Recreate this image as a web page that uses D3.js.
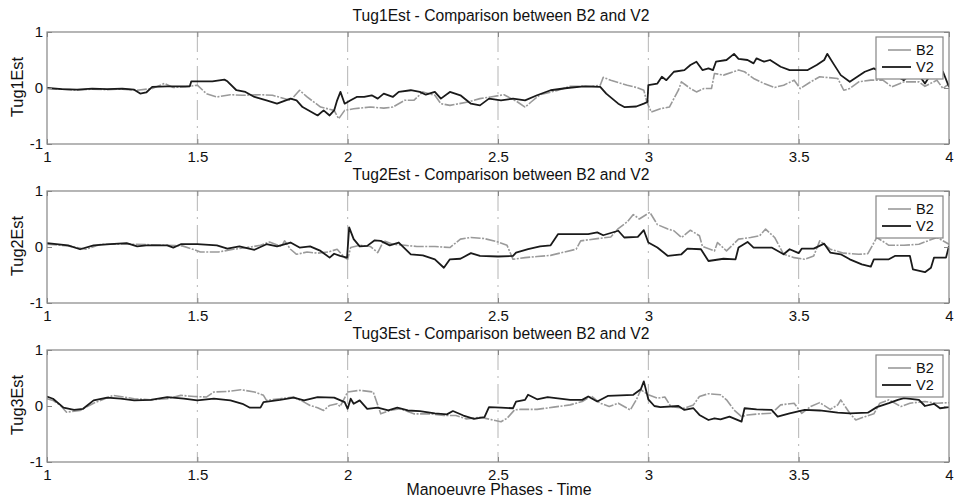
<!DOCTYPE html>
<html><head><meta charset="utf-8">
<script src="https://cdn.jsdelivr.net/npm/d3@7"></script>
<style>
html,body{margin:0;padding:0;background:#fff;}
svg{display:block;font-family:"Liberation Sans",Arial,sans-serif;}
</style></head>
<body>
<svg id="chart" width="956" height="499"></svg>
<script>
const xTicks = [1, 1.5, 2, 2.5, 3, 3.5, 4];
const yTicks = [-1, 0, 1];
const yTickLabels = ["-1", "0", "1"];
const panelTitles = ["Tug1Est - Comparison between B2 and V2", "Tug2Est - Comparison between B2 and V2", "Tug3Est - Comparison between B2 and V2"];
const yLabels = ["Tug1Est", "Tug2Est", "Tug3Est"];
const seriesNames = ["B2", "V2"];
const xLabel = "Manoeuvre Phases - Time";

const tug1B2 = [[1.0,-0.01],[1.05,-0.02],[1.10,-0.04],[1.15,-0.02],[1.20,-0.03],[1.25,-0.02],[1.30,-0.04],[1.35,-0.01],[1.39,0.08],[1.42,0.01],[1.46,0.02],[1.50,0.05],[1.53,-0.10],[1.565,-0.16],[1.61,-0.12],[1.65,-0.13],[1.71,-0.12],[1.75,-0.13],[1.81,-0.22],[1.84,-0.04],[1.865,-0.16],[1.91,-0.34],[1.955,-0.40],[1.97,-0.55],[1.99,-0.40],[2.02,-0.37],[2.075,-0.34],[2.12,-0.36],[2.15,-0.34],[2.19,-0.22],[2.22,-0.22],[2.25,-0.07],[2.29,-0.13],[2.31,-0.28],[2.34,-0.31],[2.40,-0.25],[2.44,-0.19],[2.475,-0.16],[2.52,-0.12],[2.565,-0.25],[2.59,-0.34],[2.61,-0.25],[2.64,-0.12],[2.70,-0.04],[2.74,0.03],[2.81,0.03],[2.84,0.05],[2.85,0.19],[2.875,0.14],[2.91,0.08],[2.93,0.05],[2.96,0.01],[2.985,-0.04],[2.995,-0.25],[3.01,-0.43],[3.04,-0.37],[3.07,-0.34],[3.10,-0.04],[3.11,0.11],[3.14,-0.01],[3.16,-0.07],[3.185,-0.01],[3.21,-0.01],[3.22,0.26],[3.25,0.23],[3.30,0.32],[3.32,0.29],[3.35,0.17],[3.385,0.08],[3.42,0.01],[3.45,0.05],[3.485,0.14],[3.505,-0.01],[3.54,0.11],[3.57,0.20],[3.63,0.17],[3.65,-0.04],[3.67,-0.01],[3.70,0.11],[3.74,0.14],[3.78,0.14],[3.81,0.02],[3.85,0.11],[3.90,0.11],[3.92,0.03],[3.96,0.14],[3.98,-0.01],[4.0,0.08]];
const tug1V2 = [[1.0,0],[1.05,-0.02],[1.10,-0.03],[1.15,-0.01],[1.20,-0.02],[1.25,-0.01],[1.29,-0.03],[1.31,-0.10],[1.33,-0.08],[1.35,0.02],[1.40,0.03],[1.45,0.03],[1.475,0.03],[1.48,0.12],[1.55,0.12],[1.59,0.15],[1.60,0.12],[1.63,-0.04],[1.66,-0.07],[1.69,-0.16],[1.73,-0.22],[1.765,-0.28],[1.81,-0.19],[1.83,-0.22],[1.85,-0.34],[1.90,-0.49],[1.92,-0.40],[1.94,-0.49],[1.955,-0.40],[1.965,-0.22],[1.976,-0.07],[1.99,-0.28],[2.01,-0.22],[2.03,-0.16],[2.055,-0.16],[2.08,-0.13],[2.10,-0.19],[2.12,-0.10],[2.15,-0.16],[2.17,-0.07],[2.21,-0.04],[2.24,-0.07],[2.26,-0.12],[2.29,-0.07],[2.31,-0.19],[2.34,-0.07],[2.375,-0.13],[2.41,-0.28],[2.44,-0.31],[2.47,-0.19],[2.51,-0.22],[2.55,-0.19],[2.59,-0.22],[2.63,-0.13],[2.675,-0.04],[2.73,0.0],[2.785,0.03],[2.84,0.02],[2.86,-0.10],[2.90,-0.28],[2.92,-0.34],[2.96,-0.33],[2.985,-0.28],[2.997,-0.25],[3.0,0.05],[3.03,0.08],[3.045,0.20],[3.06,0.14],[3.085,0.29],[3.12,0.32],[3.14,0.41],[3.16,0.47],[3.18,0.32],[3.20,0.35],[3.215,0.32],[3.225,0.47],[3.26,0.50],[3.285,0.61],[3.30,0.52],[3.33,0.50],[3.35,0.44],[3.36,0.53],[3.385,0.47],[3.405,0.50],[3.44,0.38],[3.47,0.32],[3.53,0.32],[3.56,0.41],[3.585,0.50],[3.595,0.61],[3.615,0.44],[3.64,0.23],[3.67,0.11],[3.695,0.20],[3.72,0.29],[3.75,0.35],[3.78,0.26],[3.81,0.26],[3.85,0.14],[3.87,0.23],[3.90,0.23],[3.92,0.08],[3.945,0.29],[3.98,0.29],[4.0,0.02]];
const tug2B2 = [[1.0,0.05],[1.07,0.02],[1.13,-0.04],[1.18,0.05],[1.29,0.05],[1.45,0.02],[1.49,-0.05],[1.51,-0.09],[1.57,-0.09],[1.62,-0.04],[1.665,-0.01],[1.71,0.03],[1.74,0.09],[1.78,0.01],[1.79,0.11],[1.81,-0.04],[1.83,-0.13],[1.865,-0.09],[1.90,-0.11],[1.935,-0.09],[1.965,-0.04],[1.99,-0.19],[2.0,-0.22],[2.01,-0.01],[2.04,0.03],[2.075,0.01],[2.10,-0.10],[2.12,0.11],[2.15,0.05],[2.19,0.03],[2.23,0.01],[2.29,0.01],[2.34,-0.01],[2.375,0.14],[2.41,0.17],[2.455,0.15],[2.50,0.09],[2.53,0.03],[2.55,-0.22],[2.59,-0.19],[2.63,-0.17],[2.675,-0.15],[2.72,-0.09],[2.76,-0.04],[2.775,0.11],[2.83,0.15],[2.875,0.18],[2.90,0.33],[2.93,0.45],[2.95,0.58],[2.97,0.50],[3.005,0.62],[3.03,0.40],[3.065,0.32],[3.085,0.29],[3.11,0.17],[3.14,0.30],[3.17,0.20],[3.18,0.01],[3.22,-0.07],[3.23,0.08],[3.26,-0.07],[3.30,0.14],[3.34,0.17],[3.37,0.20],[3.39,0.32],[3.42,0.17],[3.45,-0.13],[3.485,-0.19],[3.52,-0.22],[3.55,-0.16],[3.57,0.11],[3.605,-0.04],[3.65,-0.11],[3.70,-0.13],[3.73,-0.12],[3.76,0.17],[3.80,0.03],[3.85,0.03],[3.90,0.05],[3.96,0.17],[4.0,0.05]];
const tug2V2 = [[1.0,0.07],[1.07,0.03],[1.11,-0.04],[1.155,0.03],[1.21,0.05],[1.265,0.07],[1.30,0.01],[1.33,0.03],[1.40,0.03],[1.42,-0.01],[1.445,0.05],[1.50,0.05],[1.565,0.03],[1.60,-0.03],[1.64,0.01],[1.69,-0.05],[1.73,0.05],[1.765,0.01],[1.81,0.08],[1.84,-0.01],[1.875,0.01],[1.91,-0.07],[1.94,-0.19],[1.955,-0.12],[1.975,-0.16],[1.998,-0.19],[2.005,0.35],[2.02,0.14],[2.04,0.01],[2.065,0.02],[2.09,0.12],[2.11,0.11],[2.14,0.03],[2.17,0.08],[2.21,-0.13],[2.25,-0.15],[2.29,-0.22],[2.32,-0.37],[2.34,-0.22],[2.375,-0.21],[2.41,-0.11],[2.44,-0.16],[2.5,-0.17],[2.55,-0.16],[2.56,-0.10],[2.60,-0.04],[2.64,0.01],[2.675,0.03],[2.70,0.23],[2.80,0.23],[2.83,0.26],[2.85,0.21],[2.90,0.29],[2.92,0.17],[2.965,0.18],[2.985,0.30],[3.0,0.08],[3.03,-0.01],[3.065,-0.16],[3.11,-0.13],[3.13,-0.03],[3.175,-0.04],[3.20,-0.25],[3.25,-0.21],[3.29,-0.22],[3.30,-0.01],[3.33,0.09],[3.35,-0.01],[3.41,-0.01],[3.45,-0.13],[3.47,-0.04],[3.50,-0.11],[3.51,-0.03],[3.55,-0.03],[3.585,0.06],[3.605,-0.10],[3.64,-0.13],[3.67,-0.22],[3.71,-0.31],[3.74,-0.35],[3.75,-0.22],[3.80,-0.22],[3.82,-0.16],[3.87,-0.16],[3.88,-0.40],[3.92,-0.45],[3.94,-0.37],[3.95,-0.19],[3.99,-0.19],[4.0,0.02]];
const tug3B2 = [[1.0,0.13],[1.02,0.10],[1.045,0.01],[1.065,-0.11],[1.11,-0.08],[1.155,0.05],[1.22,0.19],[1.29,0.13],[1.345,0.11],[1.40,0.13],[1.445,0.19],[1.49,0.17],[1.53,0.16],[1.555,0.25],[1.60,0.26],[1.645,0.29],[1.69,0.25],[1.72,0.19],[1.73,0.10],[1.775,0.13],[1.82,0.16],[1.855,0.07],[1.875,0.01],[1.90,-0.03],[1.92,-0.08],[1.94,0.01],[1.965,0.04],[1.975,-0.01],[2.0,0.25],[2.04,0.28],[2.085,0.25],[2.11,-0.14],[2.14,-0.08],[2.175,-0.05],[2.22,-0.14],[2.275,-0.14],[2.32,-0.17],[2.36,-0.17],[2.395,-0.23],[2.44,-0.20],[2.475,-0.24],[2.51,-0.28],[2.53,-0.22],[2.555,-0.07],[2.575,-0.06],[2.63,-0.06],[2.685,-0.02],[2.74,0.02],[2.78,0.08],[2.81,0.18],[2.84,0.05],[2.87,-0.01],[2.90,0.05],[2.94,-0.07],[2.96,0.11],[2.975,0.29],[3.0,0.20],[3.03,0.14],[3.055,0.16],[3.075,-0.01],[3.12,-0.04],[3.15,0.02],[3.17,0.17],[3.20,0.22],[3.24,0.20],[3.26,0.11],[3.285,-0.07],[3.31,-0.19],[3.33,-0.16],[3.37,-0.14],[3.41,-0.13],[3.44,0.02],[3.485,0.05],[3.51,-0.13],[3.54,-0.01],[3.57,0.06],[3.605,-0.06],[3.63,0.02],[3.64,0.11],[3.67,-0.13],[3.69,-0.25],[3.72,-0.19],[3.75,-0.14],[3.77,0.05],[3.80,0.11],[3.84,-0.01],[3.87,0.05],[3.92,0.08],[3.96,0.05],[4.0,0.06]];
const tug3V2 = [[1.0,0.17],[1.02,0.13],[1.055,-0.03],[1.09,-0.07],[1.12,-0.05],[1.155,0.10],[1.20,0.15],[1.245,0.13],[1.29,0.10],[1.345,0.11],[1.40,0.16],[1.455,0.13],[1.50,0.10],[1.555,0.13],[1.61,0.10],[1.65,0.04],[1.675,-0.03],[1.71,-0.03],[1.72,0.07],[1.775,0.11],[1.82,0.15],[1.855,0.10],[1.90,0.16],[1.955,0.15],[1.99,0.07],[2.0,-0.05],[2.01,0.13],[2.02,0.04],[2.04,0.10],[2.065,-0.05],[2.10,-0.03],[2.135,-0.08],[2.165,-0.03],[2.20,-0.08],[2.24,-0.09],[2.29,-0.13],[2.33,-0.15],[2.35,-0.09],[2.385,-0.17],[2.42,-0.23],[2.455,-0.20],[2.47,-0.02],[2.51,-0.03],[2.55,-0.04],[2.56,0.08],[2.59,0.11],[2.60,0.20],[2.63,0.12],[2.665,0.16],[2.74,0.11],[2.78,0.11],[2.80,0.17],[2.83,0.08],[2.865,0.18],[2.95,0.20],[2.975,0.30],[2.985,0.44],[3.0,0.12],[3.02,0.0],[3.04,-0.02],[3.10,0.0],[3.12,-0.07],[3.15,-0.04],[3.17,-0.16],[3.20,-0.25],[3.22,-0.22],[3.24,-0.24],[3.27,-0.19],[3.31,-0.28],[3.32,-0.04],[3.36,-0.06],[3.41,-0.07],[3.43,-0.19],[3.47,-0.13],[3.52,-0.07],[3.57,-0.08],[3.63,-0.12],[3.67,-0.13],[3.73,-0.12],[3.76,-0.02],[3.80,0.05],[3.83,0.11],[3.85,0.14],[3.90,0.11],[3.92,0.0],[3.95,0.04],[3.97,-0.04],[4.0,-0.02]];

const panelData = [[tug1B2, tug1V2], [tug2B2, tug2V2], [tug3B2, tug3V2]];

const svg = d3.select("#chart");
const left = 47, right = 949, ph = 112;
const tops = [32, 191, 350];
const x = d3.scaleLinear().domain([1, 4]).range([left, right]);
const styles = [
  {stroke: "#9a9a9a", width: 1.6, dash: "10,1.5,2,1.5"},
  {stroke: "#1a1a1a", width: 1.8, dash: null}
];
const frameColor = "#858585";

function fitWidth(sel, target) {
  const w = sel.node().getComputedTextLength();
  const fs = parseFloat(sel.attr("font-size"));
  if (w > 0) sel.attr("font-size", (fs * target / w).toFixed(2));
}

tops.forEach((top, i) => {
  const y = d3.scaleLinear().domain([-1, 1]).range([top + ph, top]);
  const g = svg.append("g");
  g.append("rect").attr("x", left).attr("y", top).attr("width", right - left).attr("height", ph).attr("fill", "#fff");
  g.selectAll(".grid").data(xTicks.slice(1, -1)).enter().append("line")
    .attr("x1", d => x(d)).attr("x2", d => x(d)).attr("y1", top).attr("y2", top + ph)
    .attr("stroke", "#b5b5b5").attr("stroke-width", 1).attr("stroke-dasharray", "20,6,2,6");
  const clipId = "clip" + i;
  svg.append("clipPath").attr("id", clipId).append("rect").attr("x", left).attr("y", top).attr("width", right - left).attr("height", ph);
  const line = d3.line().x(d => x(d[0])).y(d => y(d[1]));
  panelData[i].forEach((series, s) => {
    g.append("path").datum(series).attr("d", line).attr("fill", "none")
      .attr("clip-path", `url(#${clipId})`)
      .attr("stroke", styles[s].stroke).attr("stroke-width", styles[s].width)
      .attr("stroke-dasharray", styles[s].dash).attr("stroke-linejoin", "round");
  });
  g.append("rect").attr("x", left).attr("y", top).attr("width", right - left).attr("height", ph)
    .attr("fill", "none").attr("stroke", frameColor).attr("stroke-width", 1.2);
  const xAxis = d3.axisBottom(x).tickValues(xTicks).tickSize(-5).tickPadding(7).tickFormat(d3.format("~g"));
  const xa = g.append("g").attr("transform", `translate(0,${top + ph})`).call(xAxis);
  xa.select(".domain").remove();
  xa.selectAll("line").attr("stroke", frameColor);
  xa.selectAll("text").attr("font-size", 15).attr("fill", "#111").attr("font-family", "Liberation Sans, Arial, sans-serif");
  const xt = g.append("g").attr("transform", `translate(0,${top})`).call(d3.axisTop(x).tickValues(xTicks).tickSize(-5).tickFormat(""));
  xt.select(".domain").remove();
  xt.selectAll("line").attr("stroke", frameColor);
  const ya = g.append("g").attr("transform", `translate(${left},0)`)
    .call(d3.axisLeft(y).tickValues(yTicks).tickSize(-5).tickPadding(4).tickFormat((d, k) => yTickLabels[k]));
  ya.select(".domain").remove();
  ya.selectAll("line").attr("stroke", frameColor);
  ya.selectAll("text").attr("font-size", 15).attr("fill", "#111").attr("font-family", "Liberation Sans, Arial, sans-serif");
  const yr = g.append("g").attr("transform", `translate(${right},0)`).call(d3.axisRight(y).tickValues(yTicks).tickSize(-5).tickFormat(""));
  yr.select(".domain").remove();
  yr.selectAll("line").attr("stroke", frameColor);
  const t = g.append("text").attr("x", 501).attr("y", top - 11).attr("text-anchor", "middle")
    .attr("font-size", 15.5).attr("fill", "#111").text(panelTitles[i]);
  fitWidth(t, 297);
  const yl = g.append("text").attr("transform", `translate(23,${top + ph / 2 - 1}) rotate(-90)`).attr("text-anchor", "middle")
    .attr("font-size", 15.5).attr("fill", "#111").text(yLabels[i]);
  fitWidth(yl, 60);
  const lx = 876, lw = 67, ly = top + 5, lh = 42;
  const lg = g.append("g");
  lg.append("rect").attr("x", lx).attr("y", ly).attr("width", lw).attr("height", lh)
    .attr("fill", "#fff").attr("stroke", frameColor).attr("stroke-width", 1.2);
  seriesNames.forEach((name, s) => {
    const yy = ly + 13 + s * 17;
    lg.append("line").attr("x1", s === 0 ? 888 : 882).attr("x2", 911).attr("y1", yy).attr("y2", yy)
      .attr("stroke", styles[s].stroke).attr("stroke-width", styles[s].width);
    lg.append("text").attr("x", 916).attr("y", yy + 5).attr("font-size", 14.5).attr("fill", "#111").text(name);
  });
});

const xl = svg.append("text").attr("x", 499).attr("y", 495).attr("text-anchor", "middle")
  .attr("font-size", 15.5).attr("fill", "#111").text(xLabel);
fitWidth(xl, 185);
</script>
</body></html>
